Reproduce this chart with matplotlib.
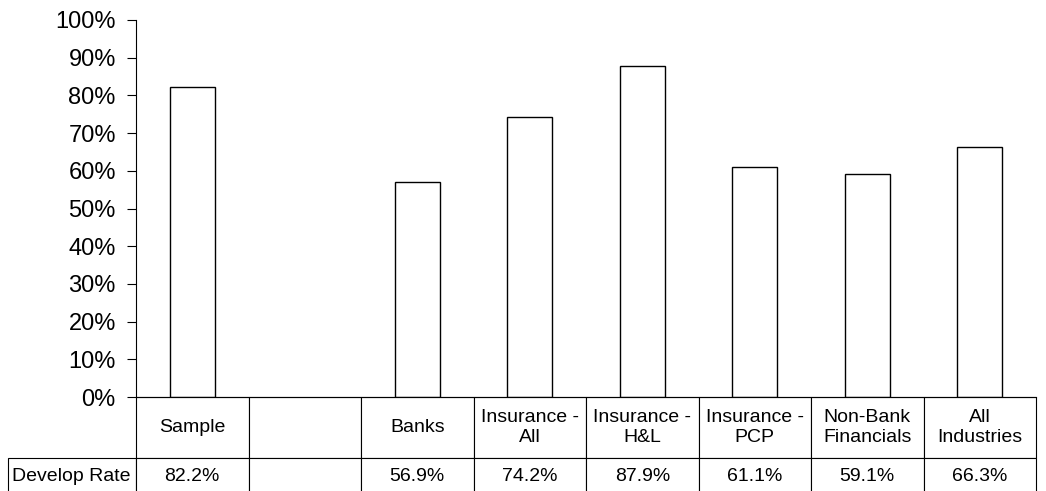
import numpy as np
import matplotlib
matplotlib.use('Agg')
import matplotlib.pyplot as plt
from matplotlib.table import Table
from matplotlib.ticker import PercentFormatter

plt.rcParams['font.family'] = ['Liberation Sans', 'DejaVu Sans']

categories = ['Sample', '', 'Banks', 'Insurance -\nAll', 'Insurance -\nH&L',
              'Insurance -\nPCP', 'Non-Bank\nFinancials', 'All\nIndustries']
develop_rate = [0.822, None, 0.569, 0.742, 0.879, 0.611, 0.591, 0.663]
row_label = 'Develop Rate'
yticks = np.arange(0, 1.01, 0.1)

fig = plt.figure(figsize=(10.46, 4.91), dpi=100)
ax = fig.add_axes([136/1046, (491-397)/491, 900/1046, 377/491])

x = np.arange(len(categories))
for xi, v in zip(x, develop_rate):
    if v is not None:
        ax.bar(xi, v, width=0.4, facecolor='white', edgecolor='black', linewidth=1.0)

ax.set_xlim(-0.5, len(categories) - 0.5)
ax.set_ylim(0, 1)
ax.set_yticks(yticks)
ax.yaxis.set_major_formatter(PercentFormatter(1.0, decimals=0))
ax.set_xticks([])
ax.tick_params(axis='y', direction='out', length=6.5, width=0.8, pad=8, labelsize=17)
for s in ['top', 'right']:
    ax.spines[s].set_visible(False)
ax.spines['left'].set_linewidth(0.8)
ax.spines['bottom'].set_linewidth(0.8)

# data table under the plot (Excel style)
label_w = 128 / 900
col_w = 1.0 / len(categories)
head_h = 61 / 377
row_h = 37 / 377
tbl = Table(ax, bbox=[-label_w, -(head_h + row_h), 1 + label_w, head_h + row_h])
c = tbl.add_cell(0, 0, width=label_w, height=head_h, text='')
c.visible_edges = ''
for j, cat in enumerate(categories):
    tbl.add_cell(0, j + 1, width=col_w, height=head_h, text=cat, loc='center')
tbl.add_cell(1, 0, width=label_w, height=row_h, text=row_label, loc='left')
for j, v in enumerate(develop_rate):
    txt = '' if v is None else f'{v*100:.1f}%'
    tbl.add_cell(1, j + 1, width=col_w, height=row_h, text=txt, loc='center')
tbl.auto_set_font_size(False)
tbl.set_fontsize(14)
for cell in tbl.get_celld().values():
    cell.set_linewidth(0.8)
    cell.PAD = 0.03
ax.add_table(tbl)

fig.savefig('out.png', dpi=100)
